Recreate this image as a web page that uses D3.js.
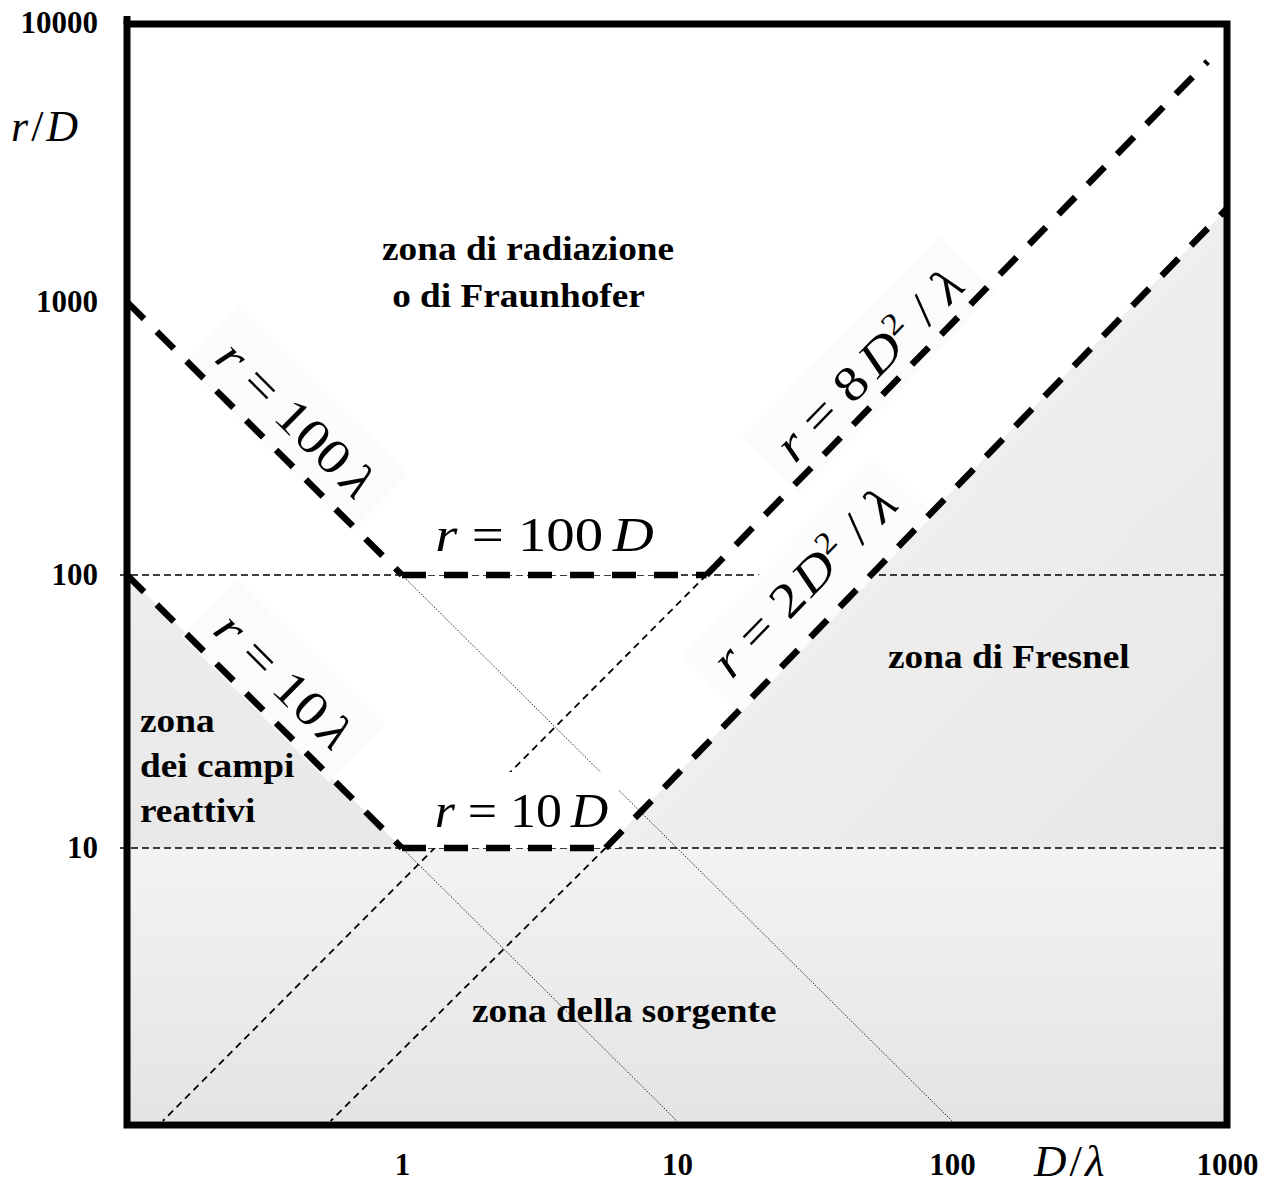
<!DOCTYPE html>
<html><head><meta charset="utf-8">
<script src="https://cdn.jsdelivr.net/npm/d3@7"></script>
<style>body{margin:0;background:#fff}</style>
</head><body>
<svg id="chart" width="1268" height="1194"></svg>
<script>
// ---------- data (D/λ , r/D) ----------
const xDomain = [0.1, 1000];
const yDomain = [1, 10000];
const xTicks = [1, 10, 100, 1000];
const yTicks = [10, 100, 1000, 10000];
const refLevels = [10, 100];
// r = 100λ , r = 100 D , r = 8 D²/λ
const farBoundary = [[0.1, 1000], [1, 100], [12.8, 100], [850, 7600]];
// r = 10λ , r = 10 D , r = 2 D²/λ
const nearBoundary = [[0.1, 100], [1, 10], [5.5, 10], [1000, 2200]];
// thin continuations
const dottedExt = [[[1, 100], [100, 1]], [[1, 10], [10, 1]]];
const dashedExt = [[[12.8, 100], [0.135, 1]], [[5.5, 10], [0.55, 1]]];

(function () {
// ---------- scales ----------
const svg = d3.select("#chart");
const x = d3.scaleLog().domain(xDomain).range([127, 1227]);
const y = d3.scaleLog().domain(yDomain).range([1121, 29]);
const line = d3.line().x(d => x(d[0])).y(d => y(d[1]));
const SERIF = "'Liberation Serif','Times New Roman',serif";

// ---------- gradients ----------
const defs = svg.append("defs");
function grad(id, x1, y1, x2, y2, c1, c2) {
  const g = defs.append("linearGradient").attr("id", id)
    .attr("x1", x1).attr("y1", y1).attr("x2", x2).attr("y2", y2);
  g.append("stop").attr("offset", 0).attr("stop-color", c1);
  g.append("stop").attr("offset", 1).attr("stop-color", c2);
}
grad("gLeft", 0, 0, 0, 1, "#ededed", "#e8e8e8");
grad("gBottom", 0, 0, 0, 1, "#f3f3f3", "#e4e4e4");
grad("gRight", 0, 0, 1, 1, "#f6f6f6", "#e7e7e7");

// ---------- grey zones ----------
const xmin = xDomain[0], xmax = xDomain[1], ymin = yDomain[0];
const zLeft = [nearBoundary[0], nearBoundary[1], [xmin, refLevels[0]]];
const zBottom = [[xmin, refLevels[0]], [xmax, refLevels[0]], [xmax, ymin], [xmin, ymin]];
const zRight = [nearBoundary[2], nearBoundary[3], [xmax, refLevels[0]]];
[[zLeft, "gLeft"], [zBottom, "gBottom"], [zRight, "gRight"]].forEach(([pts, g]) => {
  svg.append("path").attr("d", line(pts) + "Z").attr("fill", `url(#${g})`);
});

// ---------- thin reference lines ----------
refLevels.forEach(v => {
  svg.append("line").attr("x1", x(xmin) - 7).attr("x2", x(xmax))
    .attr("y1", y(v)).attr("y2", y(v))
    .attr("stroke", "#000").attr("stroke-width", 1.3).attr("stroke-dasharray", "7,4");
});
dottedExt.forEach(seg => {
  svg.append("path").attr("d", line(seg)).attr("fill", "none")
    .attr("stroke", "#111").attr("stroke-width", 0.9).attr("stroke-dasharray", "1.5,1.5");
});
dashedExt.forEach(seg => {
  svg.append("path").attr("d", line(seg)).attr("fill", "none")
    .attr("stroke", "#000").attr("stroke-width", 1.8).attr("stroke-dasharray", "7,5");
});

// ---------- math labels ----------
function mathText(sel, parts, size) {
  const t = sel.append("text").attr("font-family", SERIF).attr("font-size", size)
    .attr("fill", "#000").attr("text-anchor", "middle");
  let shift = 0;
  parts.forEach(p => {
    const ts = t.append("tspan").text(p.t);
    if (p.i) ts.attr("font-style", "italic");
    let dy = 0;
    if (p.sup) { ts.attr("font-size", size * 0.62); dy = -size * 0.38; }
    ts.attr("dy", dy - shift); shift = dy;
    if (p.dx) ts.attr("dx", p.dx * size);
  });
  return t;
}
function mathLabel(parts, cx, cy, angle, opts) {
  const sx = opts.sx || 1.16;
  const g = svg.append("g").attr("transform", `translate(${cx},${cy}) rotate(${angle}) scale(${sx},1)`);
  const box = g.append("rect").attr("fill", opts.fill);
  const t = mathText(g, parts, opts.size).attr("y", opts.size * 0.33);
  const bb = t.node().getBBox();
  const w = bb.width + opts.padX * 2, h = opts.h;
  box.attr("x", -w / 2 + (opts.bx || 0)).attr("y", -h / 2 + (opts.by || 0)).attr("width", w).attr("height", h);
  return g;
}
const ang = (a, b) => Math.atan2(y(b[1]) - y(a[1]), x(b[0]) - x(a[0])) * 180 / Math.PI;

const L100l = [{t: "r", i: 1}, {t: " = 100"}, {t: "λ", i: 1, dx: 0.14}];
const L10l = [{t: "r", i: 1}, {t: " = 10"}, {t: "λ", i: 1, dx: 0.12}];
const L8 = [{t: "r", i: 1}, {t: " = 8"}, {t: "D", i: 1, dx: 0.14}, {t: "2", sup: 1}, {t: " / "}, {t: "λ", i: 1}];
const L2 = [{t: "r", i: 1}, {t: " = 2"}, {t: "D", i: 1, dx: 0.06}, {t: "2", sup: 1}, {t: " / "}, {t: "λ", i: 1}];
const L100D = [{t: "r", i: 1}, {t: " = 100"}, {t: "D", i: 1, dx: 0.17}];
const L10D = [{t: "r", i: 1}, {t: " = 10"}, {t: "D", i: 1, dx: 0.17}];

const fs = 49;
mathLabel(L100l, x(0.41), y(372), ang(farBoundary[0], farBoundary[1]), {fill: "#fbfbfb", size: fs, padX: 16, h: 80});
mathLabel(L10l, x(0.37), y(41), ang(nearBoundary[0], nearBoundary[1]), {fill: "#fbfbfb", size: fs, padX: 16, h: 80});
mathLabel(L8, x(50), y(588), ang(farBoundary[2], farBoundary[3]), {fill: "#fbfbfb", size: fs, padX: 16, h: 80});
mathLabel(L2, x(29), y(94), ang(nearBoundary[2], nearBoundary[3]), {fill: "#fcfcfc", size: fs, padX: 16, h: 84, by: 4});
mathLabel(L100D, x(3.3), y(100) - 40, 0, {fill: "#fff", size: fs, padX: 10, h: 76, by: 2});
mathLabel(L10D, x(2.72), y(10) - 37, 0, {fill: "#fff", size: fs, padX: 10, h: 76, by: -1, sx: 1.06});

// ---------- thick boundaries ----------
[farBoundary, nearBoundary].forEach(b => {
  for (let i = 0; i < b.length - 1; i++) {
    svg.append("path").attr("d", line([b[i], b[i + 1]])).attr("fill", "none")
      .attr("stroke", "#000").attr("stroke-width", 6.5).attr("stroke-dasharray", "24,18");
  }
});

// ---------- zone texts ----------
function boldText(lines, x0, y0, lh) {
  const t = svg.append("text").attr("transform", `translate(${x0},${y0}) scale(1.13,1)`)
    .attr("font-family", SERIF).attr("font-weight", "bold").attr("font-size", 33).attr("fill", "#000");
  lines.forEach((s, i) => t.append("tspan").attr("x", s.dx || 0).attr("y", i * lh).text(s.t));
}
boldText([{t: "zona di radiazione"}, {t: "o di Fraunhofer", dx: 9}], 382, 260, 47);
boldText([{t: "zona di Fresnel"}], 888, 668, 0);
boldText([{t: "zona"}, {t: "dei campi"}, {t: "reattivi"}], 140, 732, 45);
boldText([{t: "zona della sorgente"}], 472, 1022, 0);

// ---------- axes ----------
const yAxis = svg.append("g").attr("transform", `translate(${x(xmin)},0)`)
  .call(d3.axisLeft(y).tickValues(yTicks).tickSize(0).tickPadding(29).tickFormat(d3.format("d")));
const xAxis = svg.append("g").attr("transform", `translate(0,${y(ymin) + 4})`)
  .call(d3.axisBottom(x).tickValues(xTicks).tickSize(0).tickPadding(28).tickFormat(d3.format("d")));
[yAxis, xAxis].forEach(a => {
  a.select(".domain").remove();
  a.selectAll("text").attr("font-family", SERIF).attr("font-weight", "bold")
    .attr("font-size", 31).attr("fill", "#000");
});
yAxis.selectAll(".tick text").filter(d => d === yDomain[1]).attr("dy", "0.1em");

// axis titles
const rd = svg.append("text").attr("x", 11).attr("y", 141).attr("font-family", SERIF)
  .attr("font-size", 44).attr("fill", "#000");
rd.append("tspan").attr("font-style", "italic").text("r");
rd.append("tspan").attr("dx", 3).text("/");
rd.append("tspan").attr("dx", 3).attr("font-style", "italic").text("D");
const dl = svg.append("text").attr("x", 1034).attr("y", 1176).attr("font-family", SERIF)
  .attr("font-size", 45).attr("fill", "#000");
dl.append("tspan").attr("font-style", "italic").text("D");
dl.append("tspan").attr("dx", 3).text("/");
dl.append("tspan").attr("dx", 3).attr("font-style", "italic").text("λ");

// ---------- frame ----------
const fTop = y(yDomain[1]) - 5, fBot = y(ymin) + 4;
svg.append("rect").attr("x", x(xmin)).attr("y", fTop).attr("width", x(xmax) - x(xmin))
  .attr("height", fBot - fTop).attr("fill", "none").attr("stroke", "#000").attr("stroke-width", 7);
svg.append("line").attr("x1", x(xmin)).attr("x2", x(xmin)).attr("y1", fTop - 8).attr("y2", fTop)
  .attr("stroke", "#000").attr("stroke-width", 7);
})();
</script>
</body></html>
